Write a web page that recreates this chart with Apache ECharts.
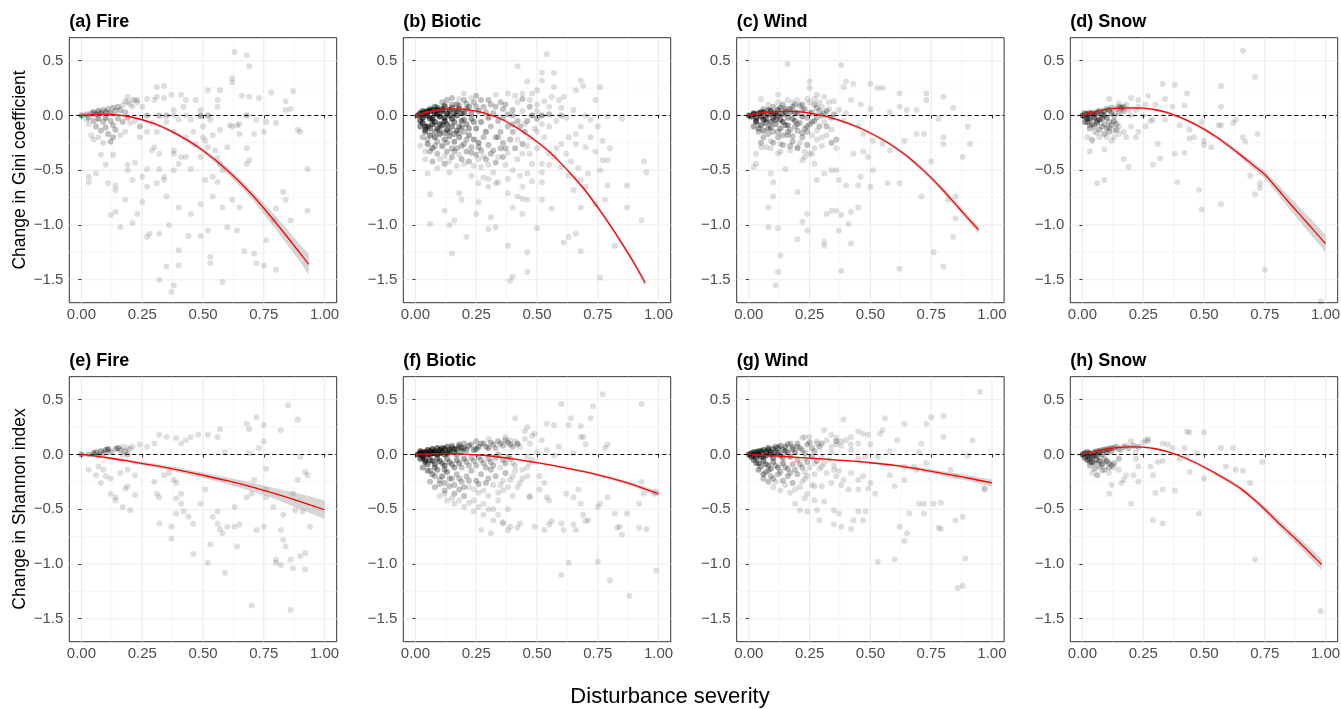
<!DOCTYPE html>
<html><head><meta charset="utf-8">
<script src="https://cdn.jsdelivr.net/npm/echarts@6/dist/echarts.min.js"></script>
<style>html,body{margin:0;padding:0;background:#fff}#c{width:1341px;height:709px}</style>
</head><body><div id="c"></div>
<script>
// ---------- ticks & labels ----------
const xTicks = [0, 0.25, 0.5, 0.75, 1];
const xTickLabels = ['0.00', '0.25', '0.50', '0.75', '1.00'];
const xMinor = [0.125, 0.375, 0.625, 0.875];
const yTicks = [-1.5, -1, -0.5, 0, 0.5];
const yTickLabels = ['\u22121.5', '\u22121.0', '\u22120.5', '0.0', '0.5'];
const yMinor = [-1.25, -0.75, -0.25, 0.25];
const panelTitles = ['(a) Fire', '(b) Biotic', '(c) Wind', '(d) Snow', '(e) Fire', '(f) Biotic', '(g) Wind', '(h) Snow'];
const rowTitles = ['Change in Gini coefficient', 'Change in Shannon index'];
const xTitle = 'Disturbance severity';

// ---------- points [x, y, overlapping count] ----------
const ptsA = [[0,0,3],[0.02,0.01,2],[0.03,-0.02,2],[0.04,0.02,2],[0.05,0.03,3],[0.06,0.01,3],[0.07,0.04,3],[0.08,0.02,3],[0.09,0.05,2],[0.1,0.03,3],[0.11,0.06,2],[0.12,0.02,3],[0.13,0.07,2],[0.14,0.04,2],[0.15,0.08,2],[0.16,0.05,2],[0.17,0.09],[0.18,0.03,2],[0.19,0.12],[0.2,0.1],[0.21,0.08],[0.22,0.14],[0.23,0.12],[0.05,-0.05,2],[0.07,-0.03,3],[0.09,-0.06,2],[0.1,-0.02,3],[0.12,-0.05,2],[0.13,-0.09,2],[0.15,-0.03,2],[0.17,-0.06,2],[0.19,-0.02,2],[0.2,-0.07],[0.22,-0.05],[0.24,-0.1],[0.06,-0.1,2],[0.08,-0.14,2],[0.1,-0.11,2],[0.11,-0.17,2],[0.13,-0.2,2],[0.14,-0.13,2],[0.16,-0.18],[0.18,-0.15],[0.04,-0.18],[0.05,-0.22],[0.07,-0.2],[0.09,-0.25],[0.12,-0.24,2],[0.03,-0.08],[0.02,-0.04],
[0.03,-0.56],[0.06,-0.53],[0.03,-0.61],[0.08,-0.36],[0.1,-0.45],[0.13,-0.36],[0.14,-0.64],[0.11,-0.62],[0.12,-0.91],[0.14,-0.88],[0.19,-0.5],[0.19,-0.45],[0.21,-0.59],[0.22,-0.43],[0.21,-0.98],[0.25,-0.56],[0.27,-0.49],[0.27,-0.65],[0.29,-0.32],[0.32,-0.35],[0.34,-0.56],[0.34,-0.59],[0.32,-0.49],[0.3,-0.29],[0.38,-0.32],[0.38,-0.35],[0.41,-0.38],[0.4,-0.44],[0.43,-0.38],[0.45,-0.49],[0.38,-0.5],[0.49,-0.38],[0.47,-0.26],[0.46,-0.15],[0.5,-0.1],[0.51,-0.23],[0.52,-0.29],[0.55,-0.32],[0.57,-0.44],[0.58,-0.5],[0.56,-0.61],[0.54,-0.56],[0.56,-0.39],[0.6,-0.29],[0.62,-0.1],[0.64,-0.09],[0.65,-0.08],[0.68,-0.3],[0.69,-0.41],[0.68,-0.44],[0.71,-0.17],[0.72,-0.04],[0.75,-0.15],[0.76,-0.06],[0.8,-0.07],[0.84,0.05],[0.89,-0.13],[0.9,-0.15],[0.93,-0.49],[0.93,-0.87],[0.86,-0.96],[0.83,-0.7],[0.84,-0.77],[0.8,-0.85],[0.79,-0.96],[0.76,-1.14],[0.75,-1.37],[0.72,-1.35],[0.67,-1.24],[0.64,-1.05],[0.6,-1.02],[0.58,-1.52],[0.53,-1.35],[0.53,-1.29],[0.52,-1.05],[0.49,-1.1],[0.44,-1.1],[0.4,-1.37],[0.4,-1.23],[0.38,-1.55],[0.37,-1.61],[0.35,-1.38],[0.32,-1.5],[0.32,-1.08],[0.28,-1.08],[0.27,-1.11],[0.36,-1.0],[0.25,-0.79],[0.31,-0.62],[0.35,-0.74],[0.4,-0.84],[0.45,-0.9],[0.49,-0.81],[0.51,-0.59],[0.54,-0.74],[0.58,-0.84],[0.62,-0.77],[0.65,-0.84],[0.71,-1.26],[0.8,-1.41],[0.14,-0.68],[0.18,-0.77],[0.16,-1.02],[0.23,-0.9],
[0.63,0.58],[0.68,0.55],[0.69,0.45],[0.62,0.34],[0.62,0.3],[0.87,0.22],[0.78,0.21],[0.66,0.18],[0.69,0.17],[0.73,0.16],[0.57,0.23],[0.52,0.23],[0.31,0.26],[0.34,0.27],[0.41,0.19],[0.37,0.19],[0.3,0.14],[0.31,0.17],[0.34,0.16],[0.43,0.14],[0.47,0.14],[0.56,0.14],[0.27,0.15],[0.23,0.14],[0.21,0.14],[0.19,0.17],[0.18,0.13],[0.84,0.13],[0.86,0.06],[0.49,0.05],[0.56,0.08],
[0.27,0,2],[0.32,0,2],[0.35,0,2],[0.38,0],[0.43,0],[0.49,0,2],[0.52,0,2],[0.68,0,2],
[0.25,0.08],[0.38,0.05],[0.42,0.08],[0.4,-0.04],[0.45,-0.04],[0.49,-0.01],[0.53,-0.04],[0.57,-0.13],[0.61,-0.09],[0.65,-0.17],[0.54,-0.18],[0.5,-0.2],[0.43,-0.2],[0.38,-0.15],[0.31,-0.15],[0.27,-0.15],[0.24,-0.2],[0.24,-0.1],[0.29,-0.07],[0.35,-0.06]];

const ptsB = [[0.01,0,8],[0.02,0.02,8],[0.03,-0.02,8],[0.04,0.03,8],[0.05,0,8],[0.06,0.04,8],[0.07,-0.03,8],[0.08,0.02,8],[0.09,0.05,8],[0.1,-0.01,8],[0.11,0.04,8],[0.12,-0.05,7],[0.13,0.02,7],[0.14,0.05,6],[0.15,-0.03,6],[0.16,0.03,5],[0.17,0,5],[0.18,0.06,4],[0.19,-0.05,4],[0.2,0.02,4],
[0.03,-0.07,6],[0.05,-0.1,6],[0.07,-0.08,6],[0.09,-0.12,5],[0.11,-0.09,5],[0.13,-0.13,5],[0.15,-0.1,4],[0.17,-0.14,4],[0.19,-0.11,3],[0.21,-0.08,3],[0.23,-0.03,3],[0.22,0.08,3],[0.24,0.12,2],[0.2,0.14,2],[0.17,0.1,3],[0.12,0.09,3],[0.08,0.08,4],
[0.04,-0.15,4],[0.06,-0.18,4],[0.08,-0.2,4],[0.1,-0.17,4],[0.12,-0.22,3],[0.14,-0.19,3],[0.16,-0.24,3],[0.18,-0.2,3],[0.2,-0.26,2],[0.22,-0.18,3],[0.24,-0.22,3],[0.26,-0.25,3],[0.25,-0.12,3],[0.27,-0.06,3],[0.26,0.04,3],[0.28,0.08,2],[0.3,-0.02,3],[0.29,-0.15,3],[0.31,-0.1,2],[0.32,0.02,2],[0.34,-0.05,2],[0.33,-0.2,2],[0.35,-0.15,2],[0.36,0.06,2],[0.38,0.01,2],[0.4,-0.08,2],[0.39,-0.22,2],[0.37,-0.3,2],
[0.05,-0.26,3],[0.07,-0.3,3],[0.09,-0.35,2],[0.11,-0.28,3],[0.13,-0.33,2],[0.15,-0.38,2],[0.17,-0.3,2],[0.19,-0.4,2],[0.21,-0.33,2],[0.23,-0.29,2],[0.25,-0.36,2],[0.27,-0.32,2],[0.29,-0.4,2],[0.31,-0.35,2],[0.33,-0.43,2],[0.35,-0.3,2],[0.07,-0.42,2],[0.12,-0.44,2],[0.17,-0.46],[0.22,-0.42,2],[0.27,-0.47],[0.32,-0.52],[0.37,-0.45],[0.42,-0.4],[0.41,-0.3,2],[0.44,-0.26,2],[0.45,-0.15,2],[0.43,-0.1,2],[0.46,-0.05,2],[0.48,0,3],[0.5,-0.03,2],[0.52,0,3],[0.55,0.01,2],[0.6,0,2],[0.47,0.08,2],[0.5,0.1],[0.44,0.15,2],[0.42,0.12],[0.38,0.2],[0.35,0.12,2],[0.3,0.14,2],[0.33,0.19],[0.25,0.18,2],[0.2,0.2],[0.15,0.16,2],[0.13,0.14,2],
[0.54,0.56],[0.42,0.45],[0.52,0.39],[0.57,0.39],[0.46,0.31],[0.52,0.32],[0.57,0.26],[0.68,0.32],[0.69,0.27],[0.76,0.26],[0.74,0.14],[0.66,0.23],[0.61,0.17],[0.59,0.14],[0.56,0.17],[0.5,0.23],[0.44,0.2],[0.47,0.14],[0.85,-0.03],[0.79,-0.01],[0.72,-0.04],[0.68,-0.1],[0.66,-0.17],[0.63,-0.2],[0.6,-0.26],[0.66,-0.26],[0.7,-0.29],[0.74,-0.33],[0.77,-0.23],[0.77,-0.41],[0.79,-0.41],[0.76,-0.5],[0.71,-0.53],[0.68,-0.59],[0.7,-0.65],[0.65,-0.68],[0.63,-0.55],[0.6,-0.47],[0.57,-0.38],[0.55,-0.35],[0.52,-0.44],[0.48,-0.44],[0.46,-0.53],[0.44,-0.65],[0.42,-0.74],[0.46,-0.77],[0.52,-0.77],[0.56,-0.85],[0.68,-0.84],[0.74,-0.81],[0.79,-0.64],[0.78,-0.77],[0.87,-0.64],[0.87,-0.84],[0.93,-0.96],[0.95,-0.52],[0.94,-0.42],[0.82,-1.19],[0.76,-1.48],[0.68,-1.24],[0.66,-1.08],[0.63,-1.11],[0.61,-1.16],[0.5,-1.03],[0.46,-1.25],[0.46,-1.43],[0.4,-1.47],[0.39,-1.51],[0.38,-1.19],[0.33,-1.02],[0.3,-1.04],[0.31,-0.93],[0.26,-0.79],[0.25,-0.9],[0.21,-1.11],[0.16,-0.96],[0.14,-1.0],[0.15,-1.26],[0.12,-0.87],[0.06,-0.99],[0.06,-0.72],[0.05,-0.53],[0.18,-0.71],[0.19,-0.77],[0.26,-0.62],[0.3,-0.65],[0.34,-0.61],[0.38,-0.71],[0.4,-0.84],[0.44,-0.9],[0.44,-0.76],[0.52,-0.61],
[0.36,-0.38,2],[0.4,-0.5],[0.43,-0.55],[0.47,-0.35],[0.5,-0.3],[0.53,-0.2],[0.55,-0.1],[0.58,-0.05],[0.62,-0.02],[0.65,0.05],[0.7,0],[0.55,0.08],[0.6,0.07],[0.49,-0.12],[0.52,-0.52],[0.48,-0.6],[0.55,-0.45],[0.58,-0.3],[0.62,-0.35],[0.64,-0.42],[0.67,-0.48],[0.72,-0.2],[0.75,-0.1],[0.8,-0.3],[0.38,-0.58],[0.33,-0.62],[0.28,-0.57],[0.23,-0.55],[0.14,-0.52],[0.09,-0.48],[0.04,-0.4],
[0.02,-0.05,6],[0.03,0.01,6],[0.04,-0.1,5],[0.05,0.04,6],[0.06,-0.03,6],[0.07,0.05,6],[0.08,-0.06,6],[0.09,0.01,6],[0.1,-0.08,5],[0.11,0.06,5],[0.12,-0.02,6],[0.13,-0.08,5],[0.14,0,5],[0.15,0.07,4],[0.16,-0.06,4],[0.17,0.04,4],[0.18,-0.1,3],[0.19,0.02,4],[0.2,-0.04,3],[0.21,0.06,3],[0.22,-0.12,3],[0.23,0.02,3],[0.24,-0.06,3],[0.25,0.08,2],[0.02,-0.1,4],[0.04,-0.13,4],[0.06,-0.12,4],[0.08,-0.15,3],[0.1,-0.13,3],[0.12,-0.16,3],[0.14,-0.15,3],[0.16,-0.17,3],[0.18,-0.16,2],[0.2,-0.15,2],[0.03,0.04,5],[0.06,0.06,4],[0.09,0.07,4],[0.12,0.08,3],[0.15,0.1,2],[0.18,0.09,2],
[0.03,-0.2,2],[0.05,-0.22,2],[0.09,-0.24,2],[0.13,-0.25,2],[0.15,-0.3,2],[0.19,-0.28,2],[0.21,-0.22,2],[0.23,-0.34,2],[0.26,-0.29,2],[0.28,-0.2,2],[0.28,-0.37],[0.3,-0.27,2],[0.32,-0.32,2],[0.34,-0.38],[0.36,-0.25,2],[0.38,-0.34],[0.4,-0.15,2],[0.42,-0.22],[0.44,-0.35],[0.42,-0.05,2],[0.44,0.04],[0.4,0.05,2],[0.37,0.1,2],[0.33,0.08,2],[0.29,0.03,2],[0.31,0.1,2],[0.27,0.14,2],[0.23,0.16],[0.21,0.11,2],[0.18,0.15],[0.11,0.12,2],[0.06,-0.33,2],[0.1,-0.4],[0.14,-0.42],[0.18,-0.36],[0.2,-0.44],[0.24,-0.46],[0.26,-0.4],[0.3,-0.45],[0.02,-0.28],[0.04,-0.33],[0.08,-0.28,2],[0.16,-0.33,2],[0.12,-0.37],[0.3,-0.58],[0.34,-0.2,2],[0.38,-0.1,2],[0.36,-0.02,2],[0.4,0,2],[0.45,-0.08],[0.47,-0.2],[0.46,-0.28],[0.5,-0.15],[0.52,-0.08],[0.5,0.04],[0.53,0.13],[0.48,0.2],[0.41,0.18]];

const ptsC = [[0,0,6],[0.01,-0.01,6],[0.02,0.01,6],[0.03,-0.02,6],[0.04,0.02,6],[0.05,-0.01,6],[0.06,0.03,6],[0.07,-0.03,5],[0.08,0.01,6],[0.09,0.04,5],[0.1,-0.02,5],[0.11,0.02,5],[0.12,0.05,4],[0.13,-0.04,4],[0.14,0.01,4],[0.15,0.06,3],[0.16,-0.02,3],[0.17,0.03,3],[0.18,0.08,2],[0.19,-0.05,3],[0.2,0.02,3],[0.22,0.05,2],[0.24,-0.02,2],[0.26,0.03,2],[0.28,0.07,2],[0.3,0,2],[0.32,0.04,2],[0.34,-0.02,2],
[0.03,-0.06,4],[0.05,-0.09,4],[0.07,-0.07,4],[0.09,-0.11,3],[0.11,-0.08,3],[0.13,-0.12,3],[0.15,-0.09,3],[0.17,-0.13,2],[0.19,-0.1,2],[0.21,-0.07,2],[0.23,-0.12,2],[0.25,-0.08,2],[0.27,-0.05,2],[0.29,-0.1,2],[0.31,-0.06],
[0.04,-0.15,2],[0.06,-0.2,2],[0.08,-0.17,2],[0.1,-0.25,2],[0.12,-0.2,2],[0.14,-0.27,2],[0.16,-0.18,2],[0.18,-0.24,2],[0.2,-0.3,2],[0.22,-0.2,2],[0.24,-0.27,2],[0.26,-0.35],[0.28,-0.22],[0.3,-0.28],[0.32,-0.18],[0.34,-0.25,2],[0.36,-0.22,2],[0.36,-0.3],
[0.1,0.08,2],[0.14,0.1,2],[0.18,0.12],[0.2,0.14],[0.22,0.1,2],[0.25,0.12],[0.06,0.06,2],[0.27,0.15],[0.29,0.12],
[0.16,0.47],[0.38,0.46],[0.25,0.31],[0.4,0.31],[0.43,0.29],[0.39,0.26],[0.5,0.29],[0.53,0.25],[0.55,0.25],[0.62,0.2],[0.73,0.2],[0.73,0.14],[0.8,0.17],[0.84,0.07],[0.62,0.08],[0.58,0.03],[0.65,0.05],[0.69,0.05],[0.5,0.06],[0.46,0.1],[0.42,0.14],[0.35,0.13],[0.31,0.17],[0.28,0.19],[0.25,0.25],[0.05,0.15],[0.12,0.19],
[0.78,-0.03],[0.8,-0.2],[0.8,-0.26],[0.72,-0.17],[0.69,-0.17],[0.64,-0.23],[0.58,-0.32],[0.55,-0.26],[0.51,-0.23],[0.47,-0.17],[0.45,-0.1],[0.43,-0.35],[0.47,-0.33],[0.49,-0.38],[0.51,-0.5],[0.5,-0.65],[0.46,-0.56],[0.45,-0.64],[0.4,-0.64],[0.37,-0.59],[0.36,-0.5],[0.34,-0.5],[0.31,-0.53],[0.27,-0.44],[0.25,-0.35],[0.23,-0.38],[0.2,-0.29],[0.17,-0.32],[0.13,-0.26],[0.12,-0.35],[0.09,-0.23],[0.07,-0.29],[0.05,-0.29],[0.02,-0.47],[0.03,-0.44],[0.1,-0.61],[0.09,-0.53],[0.1,-0.74],[0.08,-0.84],[0.08,-1.02],[0.12,-1.03],[0.13,-1.28],[0.12,-1.43],[0.11,-1.55],[0.2,-1.13],[0.22,-0.97],[0.24,-0.9],[0.24,-1.05],[0.2,-0.7],[0.15,-0.49],[0.22,-0.41],[0.28,-0.59],[0.31,-1.19],[0.31,-1.15],[0.32,-0.9],[0.34,-0.87],[0.36,-0.87],[0.37,-1.05],[0.38,-0.91],[0.38,-1.42],[0.42,-0.88],[0.42,-1.17],[0.45,-0.84],[0.41,-0.99],[0.57,-0.62],[0.62,-0.62],[0.62,-1.4],[0.71,-0.74],[0.76,-1.25],[0.75,-0.42],[0.8,-1.38],[0.84,-1.11],[0.85,-0.94],[0.85,-0.74],[0.82,-0.77],[0.91,-0.26],[0.88,-0.38],[0.9,-0.1],
[0.02,0.02,5],[0.03,-0.05,4],[0.05,0.03,5],[0.06,-0.04,5],[0.08,0.05,4],[0.09,-0.06,4],[0.1,0.02,5],[0.11,-0.04,4],[0.12,0,5],[0.13,0.07,3],[0.14,-0.06,4],[0.15,0.03,4],[0.16,-0.09,3],[0.17,0.06,3],[0.18,-0.03,3],[0.19,0.03,3],[0.2,-0.08,2],[0.21,0.09,2],[0.22,-0.01,3],[0.23,0.06,2],[0.24,-0.1,2],[0.25,0.02,2],[0.26,-0.06,2],[0.27,0.1,2],[0.28,-0.02,2],[0.29,0.04,2],[0.31,0.02,2],[0.33,0.06],[0.35,0.01,2],
[0.02,-0.1,3],[0.04,-0.12,3],[0.06,-0.14,3],[0.08,-0.12,3],[0.1,-0.15,2],[0.12,-0.15,2],[0.14,-0.18,2],[0.16,-0.15,2],[0.18,-0.19,2],[0.2,-0.14,2],[0.22,-0.16,2],[0.24,-0.15,2],[0.26,-0.18],[0.28,-0.14],[0.3,-0.2],[0.32,-0.1,2],[0.34,-0.13],[0.05,-0.25,2],[0.09,-0.3],[0.13,-0.33],[0.17,-0.28,2],[0.21,-0.25],[0.23,-0.33],[0.27,-0.3],[0.03,-0.35],[0.08,0.1],[0.12,0.12],[0.16,0.14],[0.19,0.1,2],[0.24,0.15],[0.3,0.08],[0.33,0.12],[0.37,0.05],[0.39,-0.05],[0.4,0.02]];

const ptsD = [[0,0,5],[0.01,-0.01,5],[0.02,0.01,5],[0.03,-0.03,5],[0.04,0.02,5],[0.05,-0.02,5],[0.06,0.03,4],[0.07,-0.04,4],[0.08,0.01,4],[0.09,0.04,3],[0.1,-0.02,3],[0.11,0.05,3],[0.12,0.02,3],[0.13,-0.05,3],[0.14,0.06,2],[0.16,0.07,3],[0.17,0.08,2],[0.15,0.02,2],[0.02,-0.06,3],[0.04,-0.08,3],[0.06,-0.07,3],[0.08,-0.1,2],[0.1,-0.12,2],[0.12,-0.09,2],[0.14,-0.13,2],[0.03,-0.12,2],[0.05,-0.15],[0.07,-0.2],[0.09,-0.17,2],[0.11,-0.15,2],[0.13,-0.2],[0.02,-0.2],[0.04,-0.22],
[0.66,0.59],[0.71,0.35],[0.57,0.27],[0.43,0.2],[0.38,0.28],[0.33,0.29],[0.34,0.15],[0.27,0.18],[0.2,0.16],[0.23,0.14],[0.11,0.15],[0.15,0.11],[0.16,0.06],[0.23,0.08],[0.3,0.1],[0.37,0.08],[0.42,0.09],[0.57,0.08],[0.63,-0.04],[0.62,-0.07],[0.56,-0.09],[0.49,-0.06],[0.44,-0.13],[0.4,-0.09],[0.34,-0.04],[0.29,-0.04],[0.26,-0.1],[0.23,-0.15],[0.22,-0.2],[0.2,-0.1],[0.18,-0.2],[0.15,-0.17],[0.12,-0.23],[0.09,-0.31],[0.03,-0.33],[0.04,-0.23],[0.17,-0.4],[0.19,-0.47],[0.29,-0.45],[0.31,-0.26],[0.32,-0.39],[0.38,-0.35],[0.42,-0.34],[0.44,-0.21],[0.46,-0.2],[0.5,-0.23],[0.5,-0.27],[0.53,-0.29],[0.57,-0.09],[0.66,-0.2],[0.67,-0.24],[0.72,-0.17],[0.69,-0.55],[0.71,-0.72],[0.73,-0.62],[0.73,-0.66],[0.48,-0.68],[0.49,-0.86],[0.57,-0.81],[0.39,-0.61],[0.06,-0.62],[0.09,-0.59],[0.75,-1.41],[0.98,-1.7],
[0.01,0.02,4],[0.02,-0.03,4],[0.03,0.02,4],[0.05,0.01,4],[0.06,-0.05,3],[0.07,0.04,3],[0.08,-0.03,3],[0.09,0,3],[0.1,0.06,2],[0.11,-0.06,2],[0.12,0.07,2],[0.13,0,2],[0.14,-0.08,2],[0.15,0.08,2],[0.17,0.04,2],[0.18,0.1],[0.19,0.05],[0.01,-0.06,3],[0.03,-0.09,2],[0.05,-0.1,2],[0.07,-0.13,2],[0.09,-0.08,2],[0.11,-0.11,2],[0.13,-0.14],[0.15,-0.1],[0.17,-0.15],[0.06,-0.16],[0.1,-0.2],[0.2,0],[0.22,0.05],[0.25,0],[0.26,0.1],[0.28,-0.05]];

const ptsE = [[0,0,3],[0.03,0,2],[0.05,0.01,3],[0.06,0.02,3],[0.07,-0.01,2],[0.08,0.03,3],[0.09,0.01,2],[0.1,0.04,3],[0.11,0.05,3],[0.12,0.02,2],[0.14,0.05,2],[0.15,0.06,3],[0.16,0.04,2],[0.18,0.03,2],[0.2,0.05],[0.19,0,2],[0.17,0],
[0.85,0.45],[0.89,0.32],[0.72,0.34],[0.68,0.28],[0.69,0.23],[0.57,0.23],[0.75,0.27],[0.82,0.22],[0.75,0.12],[0.73,0.06],[0.69,0.01],[0.59,0.02],[0.56,0.16],[0.52,0.18],[0.48,0.18],[0.45,0.16],[0.43,0.13],[0.41,0.1],[0.39,0.15],[0.35,0.16],[0.32,0.18],[0.3,0.1],[0.27,0.07],[0.24,0.09],[0.21,0.07],[0.19,0.06],[0.17,0.07],[0.11,0.04],
[0.03,-0.14],[0.06,-0.19],[0.08,-0.26],[0.09,-0.14],[0.1,-0.2],[0.07,-0.11],[0.12,-0.22],[0.12,-0.36],[0.14,-0.39],[0.14,-0.42],[0.18,-0.31],[0.19,-0.29],[0.17,-0.48],[0.2,-0.51],[0.22,-0.37],[0.22,-0.19],[0.19,-0.14],[0.16,-0.17],[0.3,-0.25],[0.31,-0.36],[0.32,-0.39],[0.32,-0.63],[0.34,-0.19],[0.36,-0.17],[0.38,-0.23],[0.39,-0.4],[0.37,-0.66],[0.37,-0.77],[0.39,-0.54],[0.41,-0.36],[0.41,-0.45],[0.42,-0.52],[0.39,-0.26],[0.44,-0.57],[0.46,-0.63],[0.46,-0.91],[0.49,-0.45],[0.51,-0.32],[0.52,-0.99],[0.53,-0.82],[0.54,-0.57],[0.56,-0.52],[0.56,-0.63],[0.57,-0.68],[0.58,-0.72],[0.59,-1.08],[0.6,-0.66],[0.63,-0.66],[0.63,-0.48],[0.65,-0.64],[0.64,-0.84],[0.68,-0.39],[0.7,-0.36],[0.71,-0.23],[0.72,-0.69],[0.7,-1.38],[0.75,-0.66],[0.76,-0.39],[0.76,-0.13],[0.76,-0.32],[0.79,-0.48],[0.8,-0.96],[0.8,-0.99],[0.82,-1.01],[0.82,-0.69],[0.83,-0.55],[0.83,-0.78],[0.84,-0.84],[0.86,-0.96],[0.87,-1.04],[0.86,-1.42],[0.87,-0.36],[0.89,-0.23],[0.9,-0.93],[0.92,-0.9],[0.92,-1.05],[0.92,-0.16],[0.93,-0.19],[0.94,-0.66],[0.88,-0.51],[0.91,-0.52],[0.9,-0.02]];

const ptsF = [[0.01,0,8],[0.02,0.01,8],[0.03,-0.01,8],[0.04,0.02,8],[0.05,0,8],[0.06,0.03,8],[0.07,0.01,8],[0.08,0.03,7],[0.09,0,7],[0.1,0.04,7],[0.11,0.02,6],[0.12,0.05,6],[0.13,0.01,5],[0.14,0.04,5],[0.15,0.06,4],[0.16,0.02,4],[0.17,0.05,4],[0.18,0.07,3],[0.19,0.03,3],[0.2,0.06,3],[0.22,0.08,3],[0.24,0.04,3],[0.26,0.07,3],[0.28,0.1,2],[0.3,0.06,3],[0.32,0.09,2],[0.34,0.12,2],[0.36,0.08,2],[0.38,0.11,2],[0.4,0.07,2],[0.42,0.1,2],[0.25,0.12,2],[0.3,0.14],[0.37,0.16],[0.2,0.1,2],
[0.02,-0.04,5],[0.04,-0.07,5],[0.06,-0.05,5],[0.08,-0.09,4],[0.1,-0.06,4],[0.12,-0.1,4],[0.14,-0.07,3],[0.16,-0.12,3],[0.18,-0.08,3],[0.2,-0.04,3],[0.22,-0.1,2],[0.24,-0.06,2],[0.26,-0.02,2],[0.28,-0.08,2],[0.3,-0.04,2],[0.32,-0.1,2],[0.34,0,2],[0.36,-0.05,2],[0.38,-0.02,2],[0.4,-0.08],
[0.03,-0.12,3],[0.05,-0.15,3],[0.07,-0.18,3],[0.09,-0.14,3],[0.11,-0.2,3],[0.13,-0.16,3],[0.15,-0.22,2],[0.17,-0.18,2],[0.19,-0.25,2],[0.21,-0.2,2],[0.23,-0.15,2],[0.25,-0.24,2],[0.27,-0.18,2],[0.29,-0.26,2],[0.31,-0.14,2],[0.33,-0.2,2],[0.35,-0.28],[0.37,-0.17,2],[0.39,-0.23],[0.41,-0.15],
[0.06,-0.25,2],[0.08,-0.3,2],[0.1,-0.27,2],[0.12,-0.33,2],[0.14,-0.29,2],[0.16,-0.36,2],[0.18,-0.32,2],[0.2,-0.38,2],[0.22,-0.3],[0.24,-0.42],[0.26,-0.35],[0.28,-0.45],[0.3,-0.38],[0.32,-0.5],[0.34,-0.42],[0.36,-0.33],[0.1,-0.38],[0.13,-0.42],[0.16,-0.45],[0.2,-0.48],[0.24,-0.52],[0.28,-0.55],[0.32,-0.6],[0.36,-0.62],
[0.77,0.55],[0.93,0.46],[0.6,0.46],[0.73,0.44],[0.64,0.33],[0.72,0.33],[0.41,0.33],[0.63,0.27],[0.57,0.27],[0.54,0.28],[0.46,0.25],[0.49,0.19],[0.68,0.26],[0.69,0.16],[0.68,0.16],[0.7,0.09],[0.52,0.13],[0.48,0.17],[0.45,0.21],[0.42,0.09],[0.39,0.13],[0.79,0.09],[0.78,0.06],[0.65,0.01],[0.59,0.07],[0.57,-0.01],[0.54,0.04],[0.46,-0.02],[0.47,-0.08],[0.44,-0.14],[0.46,-0.2],[0.51,-0.2],[0.53,-0.26],[0.51,-0.32],[0.43,-0.26],[0.47,-0.38],[0.47,-0.39],[0.54,-0.39],[0.55,-0.42],[0.62,-0.36],[0.67,-0.32],[0.68,-0.45],[0.65,-0.39],[0.69,-0.55],[0.71,-0.6],[0.7,-0.61],[0.66,-0.69],[0.65,-0.64],[0.61,-0.69],[0.6,-0.63],[0.56,-0.61],[0.55,-0.64],[0.53,-0.69],[0.49,-0.66],[0.43,-0.63],[0.42,-0.67],[0.39,-0.66],[0.36,-0.63],[0.31,-0.72],[0.27,-0.69],[0.38,-0.69],[0.75,-0.48],[0.76,-0.45],[0.79,-0.39],[0.82,-0.54],[0.83,-0.67],[0.84,-0.66],[0.85,-0.73],[0.87,-0.54],[0.92,-0.45],[0.93,-0.25],[0.94,-0.36],[0.98,-0.36],[0.99,-0.34],[0.92,-0.67],[0.95,-0.68],[0.6,-1.1],[0.63,-0.99],[0.75,-0.98],[0.8,-1.15],[0.88,-1.29],[0.99,-1.06],
[0.02,0.03,6],[0.03,0.02,6],[0.05,0.04,6],[0.06,0,6],[0.07,0.05,6],[0.08,0.01,6],[0.09,0.06,5],[0.1,0.01,6],[0.11,0.06,5],[0.12,0,5],[0.13,0.07,4],[0.14,0.02,5],[0.15,0.08,3],[0.16,0.05,4],[0.17,0,3],[0.18,0.09,3],[0.19,0.06,3],[0.21,0.04,3],[0.23,0.09,2],[0.25,0.05,3],[0.27,0.1,2],[0.29,0.07,2],[0.31,0.11,2],[0.33,0.06,2],[0.35,0.1,2],[0.37,0.13,2],[0.39,0.09,2],[0.41,0.12],[0.43,0.07],[0.45,0.14],
[0.03,-0.03,5],[0.04,-0.05,5],[0.05,-0.09,4],[0.07,-0.06,4],[0.08,-0.12,3],[0.09,-0.04,4],[0.11,-0.08,3],[0.12,-0.14,3],[0.13,-0.04,3],[0.15,-0.09,3],[0.17,-0.05,3],[0.19,-0.12,2],[0.21,-0.07,2],[0.23,-0.03,2],[0.25,-0.1,2],[0.27,-0.05,2],[0.29,-0.12,2],[0.31,-0.07,2],[0.33,-0.03,2],[0.35,-0.12],[0.37,-0.08,2],[0.39,-0.04,2],[0.41,-0.1],
[0.06,-0.15,2],[0.08,-0.2,2],[0.1,-0.23,2],[0.12,-0.26,2],[0.14,-0.22,2],[0.16,-0.28,2],[0.18,-0.22,2],[0.2,-0.3,2],[0.22,-0.24,2],[0.24,-0.32],[0.26,-0.27,2],[0.28,-0.33],[0.3,-0.22,2],[0.32,-0.28],[0.34,-0.35],[0.36,-0.24],[0.38,-0.3],[0.4,-0.2],[0.12,-0.36],[0.15,-0.4],[0.18,-0.42],[0.22,-0.44],[0.26,-0.48],[0.3,-0.5],[0.34,-0.55],[0.38,-0.5],[0.4,-0.38],[0.42,-0.3],[0.44,-0.22],[0.46,-0.12],[0.48,-0.05],[0.5,0.02],[0.47,0.1]];

const ptsG = [[0,0,6],[0.01,0.01,6],[0.02,-0.01,6],[0.03,0.02,6],[0.04,0,6],[0.05,0.03,6],[0.06,-0.02,5],[0.07,0.02,5],[0.08,0.04,5],[0.09,0,5],[0.1,0.05,4],[0.11,0.02,4],[0.12,0.06,4],[0.13,-0.01,3],[0.14,0.04,3],[0.15,0.07,3],[0.16,0.02,3],[0.18,0.05,3],[0.2,0.07,2],[0.22,0.04,2],[0.2,0.1,2],[0.24,0.09,2],[0.17,0.1,2],[0.22,0.15],[0.28,0.12],[0.3,0.1,2],[0.26,0.06,2],
[0.02,-0.05,4],[0.04,-0.08,4],[0.06,-0.06,4],[0.08,-0.1,3],[0.1,-0.07,3],[0.12,-0.12,3],[0.14,-0.08,3],[0.16,-0.13,2],[0.18,-0.09,2],[0.2,-0.05,2],[0.22,-0.12,2],[0.24,-0.07,2],[0.26,-0.02,2],[0.28,-0.06,2],[0.3,-0.03],
[0.04,-0.14,3],[0.06,-0.18,3],[0.08,-0.15,2],[0.1,-0.22,2],[0.12,-0.18,2],[0.14,-0.24,2],[0.16,-0.2,2],[0.18,-0.26,2],[0.2,-0.18,2],[0.22,-0.25],[0.24,-0.2],[0.26,-0.28],[0.08,-0.25,2],[0.1,-0.3],[0.13,-0.33],[0.17,-0.35],[0.19,-0.32],[0.06,-0.22,2],
[0.95,0.57],[0.8,0.35],[0.75,0.34],[0.73,0.28],[0.64,0.28],[0.39,0.32],[0.56,0.33],[0.55,0.22],[0.54,0.19],[0.61,0.13],[0.71,0.1],[0.7,0.02],[0.58,0.03],[0.73,-0.08],[0.8,0.16],[0.92,0.13],[0.9,-0.01],[0.97,-0.31],[0.97,-0.32],[0.31,0.22],[0.34,0.18],[0.36,0.15],[0.38,0.12],[0.42,0.16],[0.45,0.21],[0.47,0.19],[0.49,0.18],[0.5,0.09],[0.45,0.1],[0.42,0.09],[0.36,0.09],[0.34,0.07],[0.28,0.1],[0.25,0.16],[0.23,0.16],[0.48,-0.02],[0.53,-0.02],[0.45,-0.04],
[0.23,-0.04],[0.27,-0.08],[0.3,-0.11],[0.32,-0.17],[0.35,-0.14],[0.36,-0.2],[0.39,-0.23],[0.42,-0.17],[0.45,-0.23],[0.47,-0.2],[0.5,-0.26],[0.49,-0.31],[0.52,-0.36],[0.45,-0.32],[0.41,-0.32],[0.38,-0.28],[0.34,-0.26],[0.3,-0.29],[0.27,-0.29],[0.24,-0.36],[0.23,-0.4],[0.19,-0.45],[0.21,-0.51],[0.24,-0.52],[0.27,-0.42],[0.28,-0.51],[0.29,-0.6],[0.31,-0.43],[0.35,-0.51],[0.37,-0.54],[0.35,-0.64],[0.38,-0.66],[0.42,-0.68],[0.43,-0.6],[0.45,-0.52],[0.47,-0.6],[0.48,-0.52],[0.53,-0.98],[0.6,-0.96],[0.62,-0.66],[0.65,-0.72],[0.64,-0.79],[0.66,-0.54],[0.7,-0.45],[0.72,-0.45],[0.72,-0.54],[0.76,-0.45],[0.79,-0.44],[0.79,-0.68],[0.78,-0.67],[0.85,-0.6],[0.88,-0.57],[0.89,-0.95],[0.86,-1.22],[0.88,-1.2],[0.6,-0.29],[0.64,-0.23],[0.68,-0.11],[0.69,-0.14],[0.83,-0.14],[0.85,-0.2],[0.64,-0.11],[0.58,-0.19],
[0.01,-0.02,5],[0.02,0.02,5],[0.03,-0.03,5],[0.04,0.03,5],[0.05,-0.02,5],[0.06,0.04,5],[0.07,-0.01,5],[0.08,0.06,4],[0.09,0.02,5],[0.1,-0.03,4],[0.11,0.07,3],[0.12,0.01,4],[0.13,0.08,3],[0.14,-0.03,3],[0.15,0.03,3],[0.16,0.09,2],[0.17,-0.02,3],[0.18,0.07,2],[0.19,0.02,3],[0.21,0.06,2],[0.23,0.01,2],[0.25,0.11,2],[0.27,0.03,2],[0.29,0.07,2],[0.32,0.13],[0.34,0.02],[0.36,0.12,2],[0.38,0.08],[0.4,0.13],[0.42,0.04],
[0.03,-0.08,3],[0.05,-0.11,3],[0.07,-0.09,3],[0.09,-0.13,3],[0.11,-0.1,2],[0.13,-0.16,2],[0.15,-0.12,2],[0.17,-0.17,2],[0.19,-0.14,2],[0.21,-0.09,2],[0.23,-0.16],[0.25,-0.12],[0.27,-0.18],[0.29,-0.13],[0.31,-0.08],[0.07,-0.16,2],[0.09,-0.2,2],[0.11,-0.25],[0.15,-0.28],[0.21,-0.3],[0.23,-0.22],[0.33,-0.05],[0.35,-0.1],[0.37,-0.15]];

const ptsH = [[0,0,5],[0.01,0.01,5],[0.02,-0.01,5],[0.03,0.01,5],[0.04,-0.02,5],[0.05,0.02,4],[0.06,-0.01,4],[0.07,0.03,4],[0.08,0,3],[0.09,0.04,3],[0.1,0.02,3],[0.11,0.05,3],[0.12,0.03,2],[0.13,0.06,2],[0.15,0.05,2],[0.17,0.07,2],[0.19,0.06,2],[0.21,0.08,2],[0.23,0.07,2],[0.2,0.12],[0.25,0.11],[0.27,0.12],[0.22,0.03],
[0.02,-0.05,4],[0.04,-0.07,4],[0.06,-0.05,3],[0.08,-0.09,3],[0.1,-0.06,3],[0.12,-0.1,2],[0.03,-0.1,2],[0.05,-0.13,2],[0.07,-0.11,2],[0.09,-0.14,2],[0.11,-0.12,2],[0.13,-0.08,2],[0.15,-0.04,2],[0.04,-0.17],[0.06,-0.19],
[0.43,0.21],[0.44,0.2],[0.5,0.2],[0.42,0.06],[0.47,0.01],[0.57,0.06],[0.62,0.06],[0.59,-0.11],[0.63,-0.14],[0.66,-0.15],[0.69,-0.26],[0.74,-0.07],[0.5,-0.22],[0.44,-0.16],[0.43,-0.02],[0.4,-0.04],[0.38,-0.33],[0.48,-0.54],[0.33,-0.32],[0.29,-0.6],[0.33,-0.63],[0.3,-0.35],[0.29,-0.19],[0.33,-0.06],[0.31,-0.07],[0.28,-0.11],[0.23,-0.11],[0.22,-0.04],[0.21,-0.19],[0.16,-0.26],[0.17,-0.23],[0.18,-0.19],[0.15,-0.14],[0.11,-0.17],[0.12,-0.28],[0.11,-0.36],[0.09,-0.08],[0.2,-0.45],[0.23,-0.25],[0.06,-0.19],[0.71,-0.96],[0.98,-1.43],[0.33,0.1],[0.26,0.13],[0.27,0.14],[0.35,0.09],[0.37,0.06],
[0.01,-0.03,4],[0.02,0.02,4],[0.03,-0.04,3],[0.05,-0.01,3],[0.06,0.03,3],[0.07,-0.06,3],[0.08,0.04,2],[0.09,-0.04,2],[0.1,0.05,2],[0.11,-0.08,2],[0.12,0.06,2],[0.14,0.07,2],[0.16,0.04],[0.18,0.08],[0.13,-0.12],[0.08,-0.15],[0.05,-0.08,2],[0.03,-0.07,2]];

// ---------- fitted curves and confidence bands ----------
const fitXA = [0, 0.1, 0.2, 0.3, 0.4, 0.5, 0.6, 0.7, 0.8, 0.9, 0.935];
const fitYA = [0, 0.012, -0.012, -0.075, -0.18, -0.32, -0.5, -0.72, -0.98, -1.26, -1.36];
const loA = [-0.02, 0.002, -0.022, -0.085, -0.195, -0.34, -0.53, -0.76, -1.04, -1.34, -1.455];
const hiA = [0.02, 0.022, -0.002, -0.065, -0.165, -0.3, -0.47, -0.68, -0.92, -1.18, -1.265];

const fitXB = [0, 0.05, 0.1, 0.15, 0.2, 0.25, 0.3, 0.35, 0.4, 0.45, 0.5, 0.55, 0.6, 0.65, 0.7, 0.75, 0.8, 0.85, 0.9, 0.945];
const fitYB = [0, 0.03, 0.05, 0.06, 0.056, 0.04, 0.01, -0.03, -0.09, -0.16, -0.24, -0.33, -0.44, -0.56, -0.69, -0.84, -1.0, -1.17, -1.35, -1.53];
const loB = [-0.01, 0.02, 0.04, 0.05, 0.046, 0.03, 0, -0.04, -0.1, -0.17, -0.25, -0.34, -0.45, -0.575, -0.705, -0.86, -1.02, -1.19, -1.375, -1.56];
const hiB = [0.01, 0.04, 0.06, 0.07, 0.066, 0.05, 0.02, -0.02, -0.08, -0.15, -0.23, -0.32, -0.43, -0.545, -0.675, -0.82, -0.98, -1.15, -1.325, -1.5];

const fitXC = [0, 0.05, 0.1, 0.15, 0.2, 0.25, 0.3, 0.35, 0.4, 0.45, 0.5, 0.55, 0.6, 0.65, 0.7, 0.75, 0.8, 0.85, 0.9, 0.945];
const fitYC = [0, 0.02, 0.033, 0.037, 0.035, 0.022, 0, -0.03, -0.065, -0.108, -0.16, -0.22, -0.29, -0.37, -0.465, -0.57, -0.685, -0.81, -0.935, -1.045];
const loC = [-0.01, 0.012, 0.025, 0.03, 0.028, 0.014, -0.01, -0.04, -0.075, -0.12, -0.172, -0.234, -0.305, -0.388, -0.485, -0.592, -0.71, -0.837, -0.965, -1.08];
const hiC = [0.01, 0.028, 0.041, 0.044, 0.042, 0.03, 0.01, -0.02, -0.055, -0.096, -0.148, -0.206, -0.275, -0.352, -0.445, -0.548, -0.66, -0.783, -0.905, -1.01];

const fitXD = [0, 0.05, 0.1, 0.15, 0.2, 0.25, 0.3, 0.35, 0.4, 0.45, 0.5, 0.55, 0.6, 0.65, 0.7, 0.75, 0.8, 0.85, 0.9, 0.95, 1.0];
const fitYD = [0, 0.03, 0.055, 0.066, 0.07, 0.066, 0.052, 0.025, -0.015, -0.065, -0.125, -0.195, -0.275, -0.36, -0.45, -0.54, -0.665, -0.795, -0.92, -1.045, -1.17];
const loD = [-0.015, 0.02, 0.045, 0.056, 0.06, 0.056, 0.042, 0.014, -0.027, -0.078, -0.14, -0.212, -0.295, -0.385, -0.48, -0.575, -0.71, -0.85, -0.985, -1.12, -1.25];
const hiD = [0.015, 0.04, 0.065, 0.076, 0.08, 0.076, 0.062, 0.036, -0.003, -0.052, -0.11, -0.178, -0.255, -0.335, -0.42, -0.505, -0.62, -0.74, -0.855, -0.97, -1.09];

const fitXE = [0, 0.1, 0.2, 0.3, 0.4, 0.5, 0.6, 0.7, 0.8, 0.9, 1.0];
const fitYE = [0, -0.028, -0.063, -0.1, -0.143, -0.19, -0.24, -0.296, -0.36, -0.43, -0.505];
const loE = [-0.01, -0.04, -0.078, -0.118, -0.165, -0.215, -0.27, -0.335, -0.41, -0.5, -0.59];
const hiE = [0.01, -0.016, -0.048, -0.082, -0.121, -0.165, -0.21, -0.257, -0.31, -0.36, -0.42];

const fitXF = [0, 0.1, 0.2, 0.3, 0.4, 0.5, 0.6, 0.7, 0.8, 0.9, 1.0];
const fitYF = [0, 0.007, 0.003, -0.012, -0.04, -0.075, -0.115, -0.16, -0.215, -0.28, -0.36];
const loF = [-0.005, 0.002, -0.003, -0.018, -0.047, -0.083, -0.124, -0.171, -0.229, -0.298, -0.385];
const hiF = [0.005, 0.012, 0.009, -0.006, -0.033, -0.067, -0.106, -0.149, -0.201, -0.262, -0.335];

const fitXG = [0, 0.1, 0.2, 0.3, 0.4, 0.5, 0.6, 0.7, 0.8, 0.9, 1.0];
const fitYG = [0, -0.012, -0.026, -0.041, -0.057, -0.076, -0.1, -0.135, -0.175, -0.215, -0.26];
const loG = [-0.006, -0.017, -0.032, -0.048, -0.065, -0.086, -0.113, -0.152, -0.196, -0.24, -0.292];
const hiG = [0.006, -0.007, -0.02, -0.034, -0.049, -0.066, -0.087, -0.118, -0.154, -0.19, -0.228];

const fitXH = [0, 0.05, 0.1, 0.15, 0.2, 0.25, 0.3, 0.35, 0.4, 0.45, 0.5, 0.55, 0.6, 0.65, 0.7, 0.75, 0.8, 0.85, 0.9, 0.95, 0.984];
const fitYH = [0, 0.025, 0.05, 0.065, 0.07, 0.066, 0.052, 0.025, -0.012, -0.06, -0.115, -0.175, -0.24, -0.31, -0.4, -0.5, -0.61, -0.715, -0.82, -0.93, -1.005];
const loH = [-0.01, 0.016, 0.041, 0.056, 0.061, 0.057, 0.043, 0.015, -0.023, -0.072, -0.128, -0.19, -0.257, -0.33, -0.423, -0.527, -0.642, -0.752, -0.862, -0.978, -1.055];
const hiH = [0.01, 0.034, 0.059, 0.074, 0.079, 0.075, 0.061, 0.035, -0.001, -0.048, -0.102, -0.16, -0.223, -0.29, -0.377, -0.473, -0.578, -0.678, -0.778, -0.882, -0.955];

// ---------- assemble ----------
const panels = [
  [ptsA, fitXA, fitYA, loA, hiA], [ptsB, fitXB, fitYB, loB, hiB], [ptsC, fitXC, fitYC, loC, hiC], [ptsD, fitXD, fitYD, loD, hiD],
  [ptsE, fitXE, fitYE, loE, hiE], [ptsF, fitXF, fitYF, loF, hiF], [ptsG, fitXG, fitYG, loG, hiG], [ptsH, fitXH, fitYH, loH, hiH]
];

const colLeft = [69.3, 403.3, 736.7, 1070.3];
const rowTop = [37.7, 376.7];
const PW = 267.4, PH = 265;
const FONT = '"Liberation Sans", Arial, Helvetica, sans-serif';

function labelFor(ticks, labels) {
  return function (v) {
    for (let i = 0; i < ticks.length; i++) if (Math.abs(ticks[i] - v) < 1e-6) return labels[i];
    return '';
  };
}

const grids = [], xAxes = [], yAxes = [], series = [], graphics = [];
panels.forEach((p, i) => {
  const col = i % 4, row = Math.floor(i / 4);
  const [pts, fx, fy, lo, hi] = p;
  grids.push({ left: colLeft[col], top: rowTop[row], width: PW, height: PH, show: true,
    backgroundColor: '#fff', borderColor: '#333', borderWidth: 1, containLabel: false, outerBoundsMode: 'none' });
  xAxes.push({ gridIndex: i, type: 'value', min: -0.05, max: 1.05,
    axisLine: { show: false }, splitLine: { show: false },
    axisTick: { show: true, inside: false, length: 3, lineStyle: { color: '#333', width: 1 }, customValues: xTicks },
    axisLabel: { customValues: xTicks, formatter: labelFor(xTicks, xTickLabels), color: '#4d4d4d', fontSize: 15, margin: 5, fontFamily: FONT } });
  yAxes.push({ gridIndex: i, type: 'value', min: -1.71, max: 0.71,
    axisLine: { show: false }, splitLine: { show: false },
    axisTick: { show: true, inside: false, length: 3, lineStyle: { color: '#333', width: 1 }, customValues: yTicks },
    axisLabel: { customValues: yTicks, formatter: labelFor(yTicks, yTickLabels), color: '#4d4d4d', fontSize: 15, margin: 6, fontFamily: FONT } });

  // grid lines
  series.push({ type: 'custom', xAxisIndex: i, yAxisIndex: i, z: 0, silent: true, clip: false,
    data: [[0, 0]],
    renderItem: function (params, api) {
      const cs = params.coordSys, ch = [];
      xMinor.forEach(v => { const x = api.coord([v, 0])[0]; ch.push({ type: 'line', shape: { x1: x, y1: cs.y, x2: x, y2: cs.y + cs.height }, style: { stroke: '#f2f2f2', lineWidth: 0.7 } }); });
      yMinor.forEach(v => { const y = api.coord([0, v])[1]; ch.push({ type: 'line', shape: { x1: cs.x, y1: y, x2: cs.x + cs.width, y2: y }, style: { stroke: '#f2f2f2', lineWidth: 0.7 } }); });
      xTicks.forEach(v => { const x = api.coord([v, 0])[0]; ch.push({ type: 'line', shape: { x1: x, y1: cs.y, x2: x, y2: cs.y + cs.height }, style: { stroke: '#ebebeb', lineWidth: 1.1 } }); });
      yTicks.forEach(v => { const y = api.coord([0, v])[1]; ch.push({ type: 'line', shape: { x1: cs.x, y1: y, x2: cs.x + cs.width, y2: y }, style: { stroke: '#ebebeb', lineWidth: 1.1 } }); });
      return { type: 'group', children: ch };
    } });

  // points
  series.push({ type: 'scatter', xAxisIndex: i, yAxisIndex: i, z: 2, silent: true, symbolSize: 6,
    itemStyle: { color: '#000' },
    data: pts.map(d => ({ value: [d[0], d[1]], itemStyle: { opacity: 1 - Math.pow(0.87, d[2] || 1) } })) });

  // dashed zero line
  series.push({ type: 'custom', xAxisIndex: i, yAxisIndex: i, z: 3, silent: true, clip: false,
    data: [[0, 0]],
    renderItem: function (params, api) {
      const cs = params.coordSys; const y = api.coord([0, 0])[1];
      return { type: 'line', shape: { x1: cs.x, y1: y, x2: cs.x + cs.width, y2: y }, style: { stroke: '#000', lineWidth: 1.1, lineDash: [4, 3] } };
    } });

  // confidence band
  series.push({ type: 'custom', xAxisIndex: i, yAxisIndex: i, z: 4, silent: true,
    data: fx.map((x, k) => [x, lo[k], hi[k]]),
    renderItem: function (params, api) {
      if (params.dataIndex !== 0) return;
      const ptsPoly = [];
      for (let k = 0; k < fx.length; k++) ptsPoly.push(api.coord([fx[k], hi[k]]));
      for (let k = fx.length - 1; k >= 0; k--) ptsPoly.push(api.coord([fx[k], lo[k]]));
      return { type: 'polygon', shape: { points: ptsPoly }, style: { fill: 'rgba(153,153,153,0.4)' } };
    } });

  // fitted curve
  series.push({ type: 'line', xAxisIndex: i, yAxisIndex: i, z: 5, silent: true, showSymbol: false, smooth: 0.3,
    lineStyle: { color: '#ff0000', width: 1.3 }, data: fx.map((x, k) => [x, fy[k]]) });

  graphics.push({ type: 'text', x: colLeft[col], y: row === 0 ? 22.5 : 361.5,
    style: { text: panelTitles[i], font: 'bold 18px ' + FONT, fill: '#000', textAlign: 'left', textVerticalAlign: 'middle' } });
});

graphics.push({ type: 'text', x: 20, y: 170, rotation: Math.PI / 2,
  style: { text: rowTitles[0], font: '17.5px ' + FONT, fill: '#000', textAlign: 'center', textVerticalAlign: 'middle' } });
graphics.push({ type: 'text', x: 20, y: 509, rotation: Math.PI / 2,
  style: { text: rowTitles[1], font: '17.5px ' + FONT, fill: '#000', textAlign: 'center', textVerticalAlign: 'middle' } });
graphics.push({ type: 'text', x: 670, y: 697,
  style: { text: xTitle, font: '22px ' + FONT, fill: '#000', textAlign: 'center', textVerticalAlign: 'middle' } });

const chart = echarts.init(document.getElementById('c'), null, { renderer: 'canvas' });
chart.setOption({ animation: false, backgroundColor: '#fff', grid: grids, xAxis: xAxes, yAxis: yAxes, series: series, graphic: graphics });
</script></body></html>
